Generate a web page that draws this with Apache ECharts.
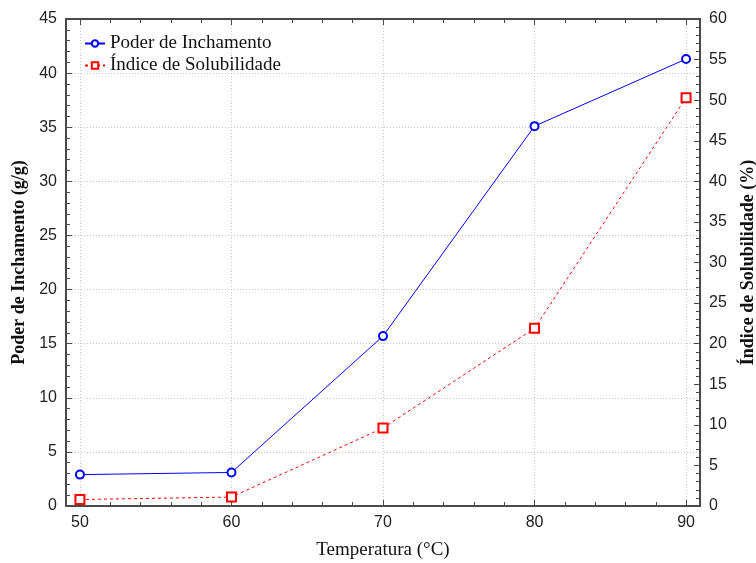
<!DOCTYPE html>
<html>
<head>
<meta charset="utf-8">
<script src="https://cdn.jsdelivr.net/npm/echarts@6/dist/echarts.min.js"></script>
<style>html,body{margin:0;padding:0;background:#fff}#c{width:756px;height:563px}</style>
</head>
<body>
<div id="c"></div>
<script>
var temps = [50, 60, 70, 80, 90];
var poder = [2.9, 3.1, 15.7, 35.1, 41.3];
var solub = [0.8, 1.1, 9.6, 21.9, 50.3];
var xMajor = [50, 60, 70, 80, 90];
var xMinor = [52, 54, 56, 58, 62, 64, 66, 68, 72, 74, 76, 78, 82, 84, 86, 88];
var xMin = 49.08, xMax = 90.92;

var axisCol = '#4a4a4a';
var serif = '"Liberation Serif", "Times New Roman", serif';
var sans = '"Liberation Sans", Arial, sans-serif';

function xAx(pos, vals, len, labels, extra) {
  var o = {
    type: 'value', position: pos, min: xMin, max: xMax,
    axisLine: { show: true, onZero: false, lineStyle: { color: axisCol, width: 2 } },
    axisTick: { show: true, inside: true, length: len, customValues: vals, lineStyle: { color: axisCol, width: 1 } },
    axisLabel: { show: labels, customValues: vals, margin: 9, fontFamily: sans, fontSize: 16, color: '#222' },
    splitLine: { show: false }
  };
  for (var k in extra) o[k] = extra[k];
  return o;
}

var chart = echarts.init(document.getElementById('c'));
chart.setOption({
  animation: false,
  grid: { left: 66, right: 56, top: 19, bottom: 57, outerBoundsMode: 'none', containLabel: false },
  legend: {
    left: 79, top: 29, orient: 'vertical', itemGap: 3, itemWidth: 20, itemHeight: 8,
    textStyle: { fontFamily: serif, fontSize: 19, color: '#111' },
    data: ['Poder de Inchamento', 'Índice de Solubilidade']
  },
  xAxis: [
    xAx('bottom', xMajor, 6, true, {
      name: 'Temperatura (°C)', nameLocation: 'middle', nameGap: 35,
      nameTextStyle: { fontFamily: serif, fontSize: 19, color: '#111' },
      splitLine: { show: true, lineStyle: { color: '#c8c8c8', type: [1, 2], width: 1 } }
    }),
    xAx('bottom', xMinor, 4, false, {}),
    xAx('top', xMajor, 6, false, {}),
    xAx('top', xMinor, 4, false, {})
  ],
  yAxis: [
    {
      type: 'value', position: 'left', min: 0, max: 45, interval: 5,
      name: 'Poder de Inchamento (g/g)', nameLocation: 'middle', nameGap: 37, nameRotate: 90,
      nameTextStyle: { fontFamily: serif, fontSize: 18, fontWeight: 'bold', color: '#111' },
      axisLine: { show: true, lineStyle: { color: axisCol, width: 2 } },
      axisTick: { show: true, inside: true, length: 6, lineStyle: { color: axisCol } },
      minorTick: { show: true, splitNumber: 5, length: 4, lineStyle: { color: axisCol } },
      axisLabel: { margin: 9, fontFamily: sans, fontSize: 16, color: '#222' },
      splitLine: { show: true, lineStyle: { color: '#c8c8c8', type: [1, 2], width: 1 } }
    },
    {
      type: 'value', position: 'right', min: 0, max: 60, interval: 5,
      name: 'Índice de Solubilidade (%)', nameLocation: 'middle', nameGap: 39, nameRotate: 90,
      nameTextStyle: { fontFamily: serif, fontSize: 18, fontWeight: 'bold', color: '#111' },
      axisLine: { show: true, lineStyle: { color: axisCol, width: 2 } },
      axisTick: { show: true, inside: true, length: 6, lineStyle: { color: axisCol } },
      minorTick: { show: true, splitNumber: 5, length: 4, lineStyle: { color: axisCol } },
      axisLabel: { margin: 9, fontFamily: sans, fontSize: 16, color: '#222' },
      splitLine: { show: false }
    }
  ],
  series: [
    {
      name: 'Poder de Inchamento', type: 'line', xAxisIndex: 0, yAxisIndex: 0,
      data: temps.map(function (t, i) { return [t, poder[i]]; }),
      symbol: 'emptyCircle', symbolSize: 8,
      itemStyle: { color: '#0000ff', borderWidth: 1.2 },
      lineStyle: { color: '#0000ff', width: 1 }
    },
    {
      name: 'Índice de Solubilidade', type: 'line', xAxisIndex: 0, yAxisIndex: 1,
      data: temps.map(function (t, i) { return [t, solub[i]]; }),
      symbol: 'emptyRect', symbolSize: 9,
      itemStyle: { color: '#ff0000', borderWidth: 1.2 },
      lineStyle: { color: '#ff0000', width: 1, type: [3, 3] }
    }
  ]
});
</script>
</body>
</html>
